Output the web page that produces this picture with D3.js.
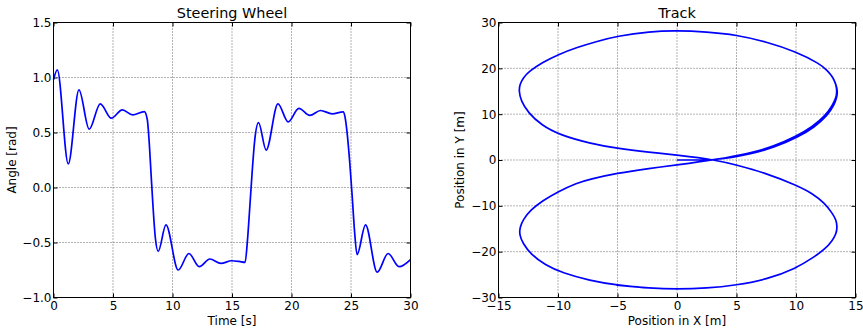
<html>
<head>
<meta charset="utf-8">
<script src="https://cdnjs.cloudflare.com/ajax/libs/d3/7.8.5/d3.min.js"></script>
<style>
  body { margin: 0; background: #fff; }
  text { font-family: "DejaVu Sans", sans-serif; fill: #000; }
</style>
</head>
<body>
<svg width="863" height="329"></svg>
<script>
// steering wheel angle over time
var steerTime = [0, 0.32, 1.24, 2.14, 3.0, 3.93, 4.86, 5.78, 6.65, 7.63, 7.88, 8.05, 8.2, 8.35, 8.55, 8.8,
  9.45, 10.48, 11.38, 12.25, 13.14, 14.07, 14.96, 15.6, 16.1, 16.3, 16.5, 16.7, 16.9, 17.23, 17.87, 18.86,
  19.72, 20.62, 21.54, 22.44, 23.42, 24.34, 24.5, 24.7, 24.9, 25.1, 25.3, 25.51, 26.22, 27.2, 28.12, 29.04, 30];
var steerAngle = [0.98, 1.07, 0.215, 0.888, 0.53, 0.76, 0.63, 0.706, 0.66, 0.69, 0.62, 0.40, 0.12, -0.15, -0.45, -0.58,
  -0.34, -0.75, -0.60, -0.72, -0.65, -0.69, -0.666, -0.672, -0.68, -0.48, -0.17, 0.15, 0.42, 0.59, 0.34, 0.76,
  0.597, 0.72, 0.655, 0.70, 0.67, 0.688, 0.64, 0.47, 0.22, -0.08, -0.40, -0.61, -0.34, -0.77, -0.60, -0.72, -0.655];

// track pieces
var startX = [0, 1.0, 2.0, 3.0];
var startY = [0, 0, 0, 0.02];
var firstArcX = [4.6, 6.2, 8.2, 10.15, 11.55, 12.65, 13.2, 13.42, 13.5];
var firstArcY = [0.55, 1.3, 2.75, 4.95, 7.15, 9.7, 12.0, 13.5, 15.0];
var topLoopX = [3.3, 6.1, 8.06, 10.0, 11.4, 12.45, 13.08, 13.36, 13.45, 13.36, 13.1, 12.65, 12.0, 10.0, 7.5, 4.99, 2.47, 0,
  -2.29, -5.09, -6.7, -8.4, -10.0, -11.3, -12.4, -12.9, -13.2, -13.29, -13.12, -12.5, -11.4, -9.8, -7.33, -5.09, -2.29, 0];
var topLoopY = [0.1, 1.46, 2.9, 5.1, 7.3, 9.6, 12.0, 13.5, 15.0, 16.5, 18.1, 19.5, 21.0, 23.65, 25.8, 27.3, 27.95, 28.25,
  28.05, 27.0, 25.9, 24.6, 23.0, 21.3, 19.4, 18.0, 16.6, 15.1, 12.9, 10.3, 7.6, 5.4, 3.64, 2.55, 1.67, 1.1];
var bottomLoopX = [3.3, 4.99, 7.5, 10.0, 11.4, 12.4, 13.05, 13.38, 13.47, 13.38, 13.05, 12.45, 11.5, 10.0, 7.5, 4.99, 2.47, 0,
  -2.29, -5.09, -7.33, -9.57, -11.1, -12.3, -12.95, -13.25, -13.2, -12.9, -12.3, -11.3, -10.0, -8.4, -7.33, -5.09, -2.29, 0];
var bottomLoopY = [0, -1.09, -2.9, -5.46, -7.3, -9.4, -11.6, -13.1, -14.6, -16.1, -17.6, -19.4, -21.2, -23.65, -26.1, -27.3, -28.0, -28.2,
  -28.0, -27.3, -26.3, -24.7, -22.9, -20.5, -18.2, -16.3, -14.6, -12.9, -10.9, -8.9, -6.9, -5.0, -4.2, -2.9, -1.8, -1.1];
var lastBottomCount = 20; // second bottom pass ends near x = -5

var steerXTicks = [0, 5, 10, 15, 20, 25, 30];
var steerYTicks = [-1.0, -0.5, 0.0, 0.5, 1.0, 1.5];
var trackXTicks = [-15, -10, -5, 0, 5, 10, 15];
var trackYTicks = [-30, -20, -10, 0, 10, 20, 30];

var pair = (xs, ys) => xs.map((x, i) => [x, ys[i]]);

var steerData = pair(steerTime, steerAngle);
var topLoop = pair(topLoopX, topLoopY);
var bottomLoop = pair(bottomLoopX, bottomLoopY);
var trackData = [].concat(
  pair(startX, startY),
  pair(firstArcX, firstArcY),
  topLoop.slice(9),
  bottomLoop,
  topLoop,
  bottomLoop.slice(0, lastBottomCount)
);

var svg = d3.select("svg");

function panel(opt) {
  var x = d3.scaleLinear().domain(opt.xDomain).range([opt.left, opt.right]);
  var y = d3.scaleLinear().domain(opt.yDomain).range([297.5, 22.5]);
  var g = svg.append("g");

  // grid
  g.selectAll(".gx").data(opt.xTicks).enter().append("line")
    .attr("x1", d => x(d)).attr("x2", d => x(d)).attr("y1", 22.5).attr("y2", 297.5)
    .attr("stroke", "#000").attr("stroke-width", 0.6).attr("stroke-dasharray", "1,2");
  g.selectAll(".gy").data(opt.yTicks).enter().append("line")
    .attr("y1", d => y(d)).attr("y2", d => y(d)).attr("x1", opt.left).attr("x2", opt.right)
    .attr("stroke", "#000").attr("stroke-width", 0.6).attr("stroke-dasharray", "1,2");

  // data
  g.append("path").datum(opt.data)
    .attr("fill", "none").attr("stroke", "#0000ff").attr("stroke-width", 1.7)
    .attr("stroke-linejoin", "round")
    .attr("d", d3.line().x(d => x(d[0])).y(d => y(d[1])).curve(opt.curve));

  // axes with inward ticks
  var ax = [
    g.append("g").attr("transform", "translate(0,297.5)")
      .call(d3.axisBottom(x).tickValues(opt.xTicks).tickFormat(opt.xFmt).tickSizeInner(-4).tickSizeOuter(0).tickPadding(4)),
    g.append("g").attr("transform", "translate(0,22.5)")
      .call(d3.axisTop(x).tickValues(opt.xTicks).tickFormat("").tickSizeInner(-4).tickSizeOuter(0)),
    g.append("g").attr("transform", "translate(" + opt.left + ",0)")
      .call(d3.axisLeft(y).tickValues(opt.yTicks).tickFormat(opt.yFmt).tickSizeInner(-4).tickSizeOuter(0).tickPadding(2)),
    g.append("g").attr("transform", "translate(" + opt.right + ",0)")
      .call(d3.axisRight(y).tickValues(opt.yTicks).tickFormat("").tickSizeInner(-4).tickSizeOuter(0))
  ];
  ax.forEach(a => {
    a.select(".domain").remove();
    a.selectAll("text").style("font-size", "12px").attr("font-family", null);
    a.selectAll("line").attr("stroke", "#000");
  });

  g.append("rect").attr("x", opt.left).attr("y", 22.5)
    .attr("width", opt.right - opt.left).attr("height", 275)
    .attr("fill", "none").attr("stroke", "#000").attr("stroke-width", 1);

  var cx = (opt.left + opt.right) / 2;
  g.append("text").attr("x", cx).attr("y", 18).attr("text-anchor", "middle")
    .style("font-size", "14.4px").text(opt.title);
  g.append("text").attr("x", cx).attr("y", 325).attr("text-anchor", "middle")
    .style("font-size", "12px").text(opt.xLabel);
  g.append("text").attr("transform", "translate(" + opt.yLabelX + ",160) rotate(-90)")
    .attr("text-anchor", "middle").style("font-size", "12px").text(opt.yLabel);
}

panel({
  left: 53.5, right: 410.5, xDomain: [0, 30], yDomain: [-1, 1.5],
  xTicks: steerXTicks, yTicks: steerYTicks,
  xFmt: d3.format("d"), yFmt: d3.format(".1f"),
  data: steerData, curve: d3.curveMonotoneX,
  title: "Steering Wheel", xLabel: "Time [s]", yLabel: "Angle [rad]", yLabelX: 16
});

panel({
  left: 498.5, right: 855.5, xDomain: [-15, 15], yDomain: [-30, 30],
  xTicks: trackXTicks, yTicks: trackYTicks,
  xFmt: d3.format("d"), yFmt: d3.format("d"),
  data: trackData, curve: d3.curveBasis,
  title: "Track", xLabel: "Position in X [m]", yLabel: "Position in Y [m]", yLabelX: 464
});
</script>
</body>
</html>
